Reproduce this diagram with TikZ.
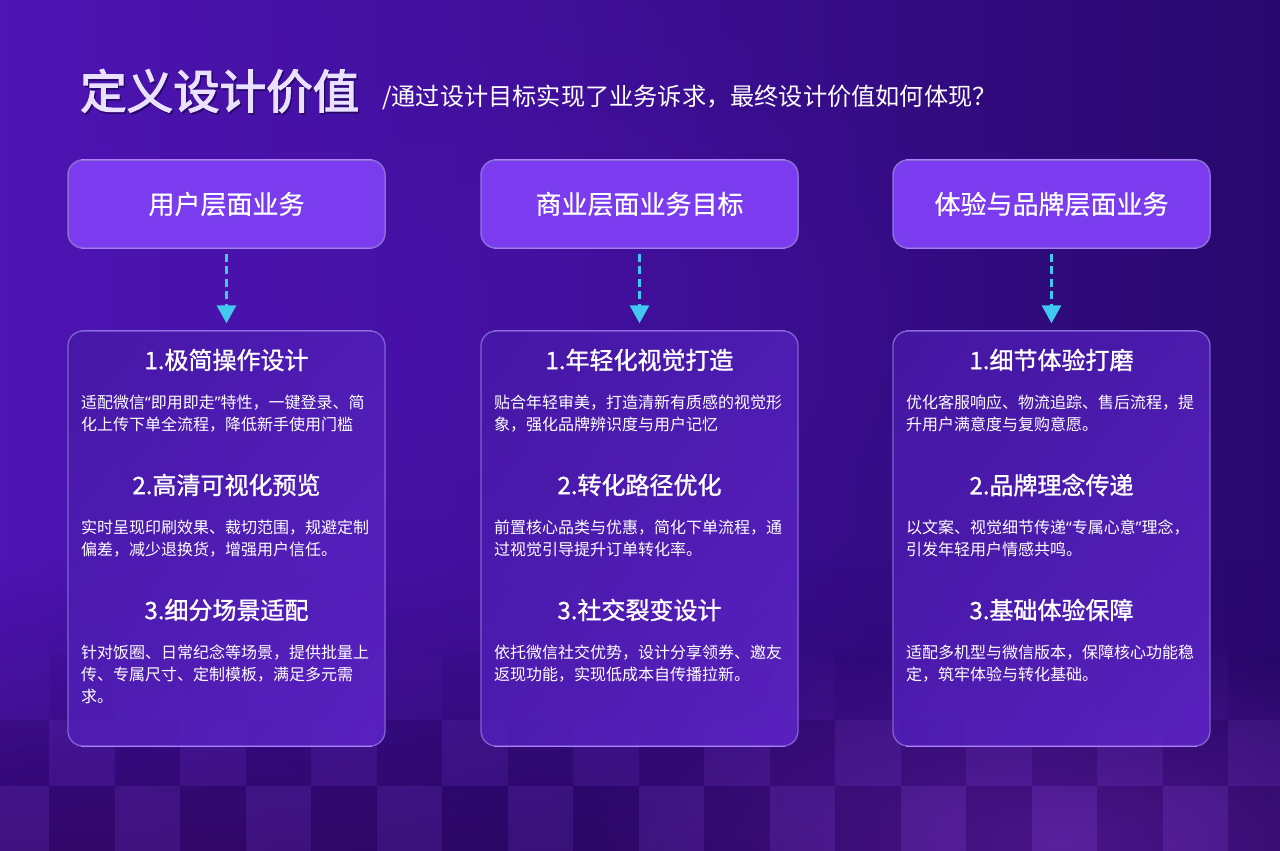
\documentclass[tikz,border=0pt]{standalone}
\usepackage{fontspec}
\setmainfont{Noto Sans CJK SC}
\newfontfamily\hbold{Noto Sans CJK SC}[FakeBold=1.2]
\newfontfamily\mbold{Noto Sans CJK SC}[FakeBold=0.5]
\newfontfamily\tbold{Noto Sans CJK SC}[FakeBold=2.6]
\newfontfamily\latq{Noto Sans}
\newcommand{\myLq}{{\latq “}}
\newcommand{\myRq}{{\latq ”}}
\usetikzlibrary{arrows.meta,fadings,shadings}
\definecolor{bgL}{RGB}{78,20,180}
\definecolor{bgR}{RGB}{40,8,110}
\definecolor{darkbot}{RGB}{44,6,104}
\definecolor{glowA}{RGB}{112,36,186}
\definecolor{glowB}{RGB}{70,10,120}
\definecolor{hdrfill}{RGB}{123,60,240}
\definecolor{hdredge}{RGB}{140,110,215}
\definecolor{hilite}{RGB}{178,128,255}
\definecolor{cardA}{RGB}{70,24,166}
\definecolor{cardM}{RGB}{80,30,182}
\definecolor{cardB}{RGB}{94,36,200}
\definecolor{cardedge}{RGB}{128,98,212}
\definecolor{arrowc}{RGB}{64,200,240}
\definecolor{titlec}{RGB}{234,224,255}
\definecolor{shadowc}{RGB}{28,4,80}
\tikzfading[name=softglow, inner color=transparent!0, outer color=transparent!100]
\tikzfading[name=upfade, top color=transparent!100, bottom color=transparent!0]
\begin{document}
\begin{tikzpicture}[x=1pt,y=-1pt,
  hdr/.style={minimum width=317pt, minimum height=88pt, rounded corners=15pt, fill=hdrfill, draw=hdredge, line width=1.5pt, text=white, font=\fontsize{26pt}{30pt}\selectfont\mbold, inner sep=0pt},
  card/.style={minimum width=317pt, minimum height=415pt, rounded corners=15pt, draw=cardedge, line width=1.3pt, upper left=cardA, upper right=cardM, lower left=cardM, lower right=cardB, fill opacity=0.88, inner sep=0pt},
  head/.style={text=white, font=\fontsize{24pt}{28pt}\selectfont\hbold, inner sep=0pt},
  body/.style={text=white, font=\fontsize{16pt}{22pt}\selectfont, align=left, anchor=north west, inner sep=0pt},
  flow/.style={draw=arrowc, line width=3pt, dash pattern=on 8pt off 4.5pt, -{Triangle[width=19pt,length=18pt]}},
  edgeline/.style={draw=hilite, line width=1.3pt},
]
\useasboundingbox (0,0) rectangle (1280,851);
% background
\fill[bgR] (0,0) rectangle (1280,851);
\shade[left color=bgL, right color=bgR] (0,0) rectangle (1280,851);
\fill[bgL, opacity=0.45, path fading=softglow] (380,330) ellipse (620 and 420);
\fill[darkbot, opacity=0.75, path fading=upfade] (0,560) rectangle (1280,851);
\fill[glowB, opacity=0.35, path fading=softglow] (150,860) ellipse (420 and 120);
\fill[glowA, opacity=0.6, path fading=softglow] (1060,845) ellipse (500 and 210);
% tiles
\foreach \r/\yt/\k in {0/654/0.3,1/720/0.8,2/786/1}{
  \foreach \c in {0,...,19}{
    \pgfmathtruncatemacro{\pp}{mod(\c+\r,2)}
    \pgfmathsetmacro{\xx}{-16.5+65.5*\c}
    \pgfmathsetmacro{\ol}{0.04*\k}
    \pgfmathsetmacro{\od}{0.12*\k}
    \ifnum\pp=0
      \fill[white, opacity=\ol] (\xx,\yt) rectangle ++(65.5,66);
    \else
      \fill[black, opacity=\od] (\xx,\yt) rectangle ++(65.5,66);
    \fi
  }
}
% title
\node[anchor=west, inner sep=0pt, font=\fontsize{46.5pt}{50pt}\selectfont\tbold, text=shadowc, opacity=0.55] (titleshadow) at (81.5,93) {定义设计价值};
\node[anchor=west, inner sep=0pt, font=\fontsize{46.5pt}{50pt}\selectfont\tbold, text=titlec] (title) at (80,91) {定义设计价值};
\node[anchor=west, inner sep=0pt, font=\fontsize{24.2pt}{26pt}\selectfont, text=white] (subtitle) at (382,97) {/通过设计目标实现了业务诉求，最终设计价值如何体现？};
% headers
\node[hdr] (h1) at (226.5,204) {用户层面业务};
\node[hdr] (h2) at (639.5,204) {商业层面业务目标};
\node[hdr] (h3) at (1051.5,204) {体验与品牌层面业务};
\foreach \h in {h1,h2,h3}{
  \draw[edgeline] ([xshift=14pt]\h.north west) -- ([xshift=-14pt]\h.north east);
  \draw[edgeline, draw opacity=0.8] ([xshift=14pt]\h.south west) -- ([xshift=-14pt]\h.south east);
}
% cards
\node[card] (c1) at (226.5,538.5) {};
\node[card] (c2) at (639.5,538.5) {};
\node[card] (c3) at (1051.5,538.5) {};
\foreach \h in {c1,c2,c3}{
  \draw[edgeline, draw opacity=0.6] ([xshift=14pt]\h.north west) -- ([xshift=-14pt]\h.north east);
  \draw[edgeline] ([xshift=14pt]\h.south west) -- ([xshift=-14pt]\h.south east);
}
% connectors
\draw[flow] ([yshift=-5pt]h1.south) -- ([yshift=7pt]c1.north);
\draw[flow] ([yshift=-5pt]h2.south) -- ([yshift=7pt]c2.north);
\draw[flow] ([yshift=-5pt]h3.south) -- ([yshift=7pt]c3.north);
% card 1
\node[head] (c1t1) at (226.5,360) {1.极简操作设计};
\node[body] (c1b1) at (81,395) {适配微信\myLq 即用即走\myRq 特性，一键登录、简\\化上传下单全流程，降低新手使用门槛};
\node[head] (c1t2) at (226.5,485) {2.高清可视化预览};
\node[body] (c1b2) at (81,520) {实时呈现印刷效果、裁切范围，规避定制\\偏差，减少退换货，增强用户信任。};
\node[head] (c1t3) at (226.5,610) {3.细分场景适配};
\node[body] (c1b3) at (81,645) {针对饭圈、日常纪念等场景，提供批量上\\传、专属尺寸、定制模板，满足多元需\\求。};
% card 2
\node[head] (c2t1) at (639.5,360) {1.年轻化视觉打造};
\node[body] (c2b1) at (494,395) {贴合年轻审美，打造清新有质感的视觉形\\象，强化品牌辨识度与用户记忆};
\node[head] (c2t2) at (639.5,485) {2.转化路径优化};
\node[body] (c2b2) at (494,520) {前置核心品类与优惠，简化下单流程，通\\过视觉引导提升订单转化率。};
\node[head] (c2t3) at (639.5,610) {3.社交裂变设计};
\node[body] (c2b3) at (494,645) {依托微信社交优势，设计分享领券、邀友\\返现功能，实现低成本自传播拉新。};
% card 3
\node[head] (c3t1) at (1051.5,360) {1.细节体验打磨};
\node[body] (c3b1) at (906,395) {优化客服响应、物流追踪、售后流程，提\\升用户满意度与复购意愿。};
\node[head] (c3t2) at (1051.5,485) {2.品牌理念传递};
\node[body] (c3b2) at (906,520) {以文案、视觉细节传递\myLq 专属心意\myRq 理念，\\引发年轻用户情感共鸣。};
\node[head] (c3t3) at (1051.5,610) {3.基础体验保障};
\node[body] (c3b3) at (906,645) {适配多机型与微信版本，保障核心功能稳\\定，筑牢体验与转化基础。};
\end{tikzpicture}
\end{document}
